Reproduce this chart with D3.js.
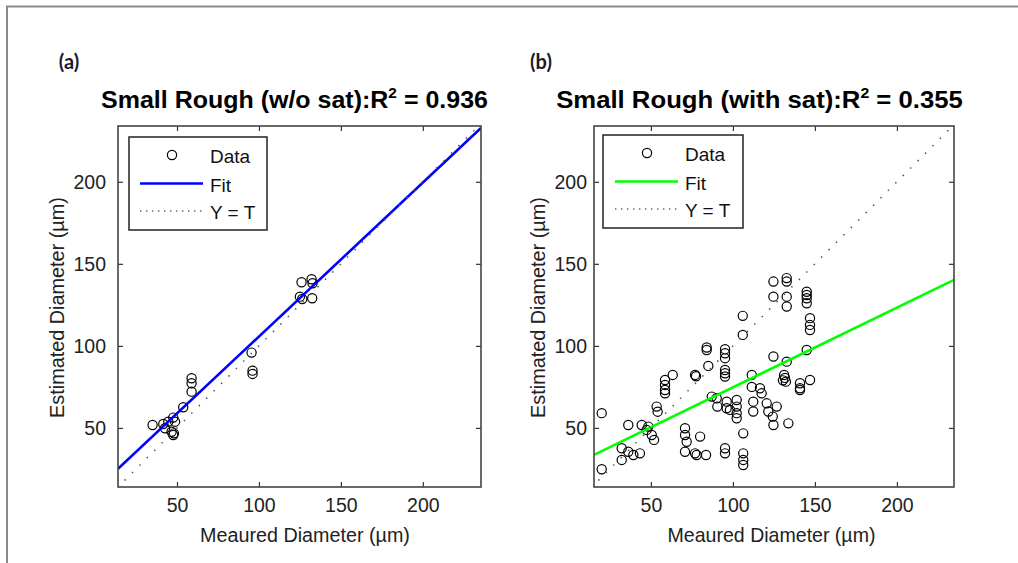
<!DOCTYPE html>
<html>
<head>
<meta charset="utf-8">
<script src="https://cdn.jsdelivr.net/npm/d3@7"></script>
<style>
  body { margin: 0; background: #fff; }
  svg { display: block; }
</style>
</head>
<body>
<svg id="fig" width="1018" height="563"></svg>
<script>
// ---- data -------------------------------------------------------------
const tickValues = [50, 100, 150, 200];
const panelTags = ["(a)", "(b)"];
const titlePrefixes = ["Small Rough (w/o sat):R", "Small Rough (with sat):R"];
const rSquared = [0.936, 0.355];
const legendLabels = ["Data", "Fit", "Y = T"];
const xLabel = "Meaured Diameter (\u00b5m)";
const yLabel = "Estimated Diameter (\u00b5m)";

// panel (a): without saturation
const measuredA = [35.1, 41.6, 44.7, 47.7, 48.8, 46.7, 48.1, 47.7, 42.7, 53.8,
  58.9, 58.9, 58.9, 95.5, 96.1, 96.1, 126.0, 132.1, 132.7, 125.0, 126.4, 132.5];
const estimatedA = [51.8, 52.4, 53.8, 56.3, 53.8, 47.7, 46.7, 45.7, 49.8, 62.6,
  80.3, 77.2, 72.1, 95.9, 84.9, 82.9, 138.8, 140.6, 138.2, 130.0, 128.6, 129.0];
const fitA = [0.938, 11.9];   // slope, intercept

// panel (b): with saturation
const measuredB = [20, 20, 32.2, 32.2, 36.2, 39.3, 43.3, 36.2, 44.4, 47.4,
  48.4, 50.5, 51.9, 53.5, 54.1, 58.6, 58.6, 58.6, 58.6, 63.3,
  70.8, 70.8, 71.8, 70.8, 76.9, 77.5, 76.9, 77.9, 83.6, 80.0,
  84.0, 84.0, 85.0, 87.1, 90.1, 90.5, 95.2, 95.2, 95.2, 95.2,
  95.2, 95.2, 96.2, 96.2, 95.2, 95.2, 102.3, 102.3, 102.3, 102.3,
  106.0, 106.0, 106.3, 106.3, 106.3, 106.3, 111.5, 112.4, 112.4, 116.5,
  117.5, 120.6, 121.6, 124.3, 124.7, 126.7, 124.7, 124.7, 124.7, 132.8,
  132.8, 132.8, 132.8, 132.8, 131.2, 131.7, 132.3, 130.5, 133.8, 140.9,
  140.9, 145.0, 145.0, 145.0, 145.0, 147.0, 147.0, 147.0, 145.0, 147.0,
  111.5, 98.2, 140.9];
const estimatedB = [59.0, 24.8, 37.6, 30.5, 35.5, 33.5, 34.5, 51.8, 51.8, 48.8,
  50.8, 45.7, 42.7, 63.0, 59.9, 79.2, 76.2, 73.1, 71.1, 82.3,
  49.8, 45.7, 41.6, 35.5, 82.3, 81.5, 34.5, 33.5, 33.5, 44.7,
  97.5, 99.0, 87.8, 69.1, 68.1, 63.0, 98.0, 95.5, 92.5, 85.3,
  83.3, 81.3, 66.0, 62.0, 37.6, 34.5, 67.0, 63.0, 59.0, 55.9,
  118.3, 106.7, 46.7, 34.5, 30.5, 27.4, 82.3, 66.0, 60.0, 74.2,
  71.1, 65.0, 60.0, 56.9, 51.8, 63.0, 93.5, 139.2, 130.0, 141.3,
  139.2, 130.0, 124.0, 90.4, 82.3, 80.5, 78.2, 79.0, 52.8, 77.2,
  74.2, 133.0, 131.0, 129.0, 126.0, 116.9, 112.8, 109.7, 97.5, 79.2,
  75.0, 61.0, 73.1];
const fitB = [0.486, 26.1];

// ---- layout -----------------------------------------------------------
const panels = [
  { tag: panelTags[0], prefix: titlePrefixes[0], r2: rSquared[0],
    xs: measuredA, ys: estimatedA, fit: fitA, fitColor: "#0000ff",
    box: { l: 118, r: 481, t: 126, b: 487 }, xDom: [14, 235.5], yDom: [14, 234],
    tagPos: [69, 69], titleC: 294.5, titleW: 387, xLabC: 305, xLabW: 210,
    yLabBase: 64, yTickGap: 12,
    legend: { l: 129, t: 137, w: 138, h: 93, mark: 172, line: [140, 203], text: 210 } },
  { tag: panelTags[1], prefix: titlePrefixes[1], r2: rSquared[1],
    xs: measuredB, ys: estimatedB, fit: fitB, fitColor: "#00ff00",
    box: { l: 594, r: 954, t: 126, b: 487 }, xDom: [15.3, 234.8], yDom: [14, 234],
    tagPos: [541, 69], titleC: 759.5, titleW: 407, xLabC: 771.5, xLabW: 208,
    yLabBase: 545, yTickGap: 7,
    legend: { l: 603, t: 135, w: 140, h: 93, mark: 647, line: [615, 678], text: 685 } }
];

const svg = d3.select("#fig");
const FONT = "'Liberation Sans', Arial, sans-serif";
const LABEL_SIZE = 19.5;

// outer frame (only its top and left edges fall inside the canvas)
svg.append("path")
  .attr("d", "M7,563V6.5H1018")
  .attr("fill", "none").attr("stroke", "#8a8a8a").attr("stroke-width", 2);

// stretch or squeeze a text node horizontally so it spans the requested width
function fitWidth(sel, cx, cy, width, rotate) {
  const w = sel.node().getBBox().width;
  const sx = width / w;
  sel.attr("transform", `translate(${cx},${cy})` + (rotate ? " rotate(-90)" : "") + ` scale(${sx},1)`);
}

panels.forEach((p, i) => {
  const g = svg.append("g");
  const x = d3.scaleLinear().domain(p.xDom).range([p.box.l, p.box.r]);
  const y = d3.scaleLinear().domain(p.yDom).range([p.box.b, p.box.t]);

  const clipId = "clip" + i;
  svg.append("clipPath").attr("id", clipId).append("rect")
    .attr("x", p.box.l).attr("y", p.box.t)
    .attr("width", p.box.r - p.box.l).attr("height", p.box.b - p.box.t);

  // panel tag
  g.append("text").text(p.tag)
    .attr("x", p.tagPos[0]).attr("y", p.tagPos[1])
    .attr("text-anchor", "middle")
    .attr("font-family", "Lato, 'Open Sans', sans-serif").attr("font-weight", "bold")
    .attr("font-size", 20).attr("fill", "#1a1a2a");

  // title with superscript
  const title = g.append("text")
    .attr("text-anchor", "middle")
    .attr("font-family", FONT).attr("font-weight", "bold")
    .attr("font-size", 23.5).attr("fill", "#000");
  title.append("tspan").text(p.prefix);
  title.append("tspan").text("2").attr("font-size", 14.5).attr("dy", -10);
  title.append("tspan").text(" = " + p.r2.toFixed(3)).attr("dy", 10);
  fitWidth(title, p.titleC, 108, p.titleW);

  // axes: ticks point inward on all four sides
  const ax = g.append("g");
  const styleAxis = sel => {
    sel.select(".domain").remove();
    sel.selectAll(".tick line").attr("stroke", "#333").attr("stroke-width", 1.2);
    sel.selectAll("text").attr("font-size", LABEL_SIZE).attr("fill", "#222")
      .attr("font-family", FONT);
  };
  ax.append("g").attr("transform", `translate(0,${p.box.b})`)
    .call(d3.axisBottom(x).tickValues(tickValues).tickSize(-5).tickPadding(11))
    .call(styleAxis);
  ax.append("g").attr("transform", `translate(0,${p.box.t})`)
    .call(d3.axisTop(x).tickValues(tickValues).tickSize(-5).tickFormat(""))
    .call(styleAxis);
  ax.append("g").attr("transform", `translate(${p.box.l},0)`)
    .call(d3.axisLeft(y).tickValues(tickValues).tickSize(-5).tickPadding(p.yTickGap))
    .call(styleAxis);
  ax.append("g").attr("transform", `translate(${p.box.r},0)`)
    .call(d3.axisRight(y).tickValues(tickValues).tickSize(-5).tickFormat(""))
    .call(styleAxis);

  // axis labels
  const xl = g.append("text").text(xLabel)
    .attr("text-anchor", "middle").attr("font-family", FONT)
    .attr("font-size", LABEL_SIZE).attr("fill", "#222");
  fitWidth(xl, p.xLabC, 542, p.xLabW);
  const yl = g.append("text").text(yLabel)
    .attr("text-anchor", "middle").attr("font-family", FONT)
    .attr("font-size", LABEL_SIZE).attr("fill", "#222");
  fitWidth(yl, p.yLabBase, 307.5, 221, true);

  // plot content, clipped to the axes box
  const plot = g.append("g").attr("clip-path", `url(#${clipId})`);
  plot.selectAll("circle.pt")
    .data(d3.zip(p.xs, p.ys))
    .join("circle").attr("class", "pt")
    .attr("cx", d => x(d[0])).attr("cy", d => y(d[1])).attr("r", 4.6)
    .attr("fill", "none").attr("stroke", "#000").attr("stroke-width", 1.2);

  const line = d3.line().x(d => x(d[0])).y(d => y(d[1]));
  plot.append("path")
    .datum(p.xDom.map(v => [v, p.fit[0] * v + p.fit[1]]))
    .attr("d", line).attr("fill", "none")
    .attr("stroke", p.fitColor).attr("stroke-width", 2.6);
  plot.append("path")
    .datum([[18, 18], [235, 235]])
    .attr("d", line).attr("fill", "none")
    .attr("stroke", "#555").attr("stroke-width", 1.5)
    .attr("stroke-dasharray", "1.5,9");

  // axes box
  g.append("rect")
    .attr("x", p.box.l).attr("y", p.box.t)
    .attr("width", p.box.r - p.box.l).attr("height", p.box.b - p.box.t)
    .attr("fill", "none").attr("stroke", "#444").attr("stroke-width", 1.6);

  // legend
  const L = p.legend;
  const lg = g.append("g");
  lg.append("rect").attr("x", L.l).attr("y", L.t).attr("width", L.w).attr("height", L.h)
    .attr("fill", "#fff").attr("stroke", "#222").attr("stroke-width", 1.5);
  const rowY = [L.t + 18, L.t + 46.5, L.t + 74];
  lg.append("circle").attr("cx", L.mark).attr("cy", rowY[0]).attr("r", 4.6)
    .attr("fill", "none").attr("stroke", "#000").attr("stroke-width", 1.2);
  lg.append("line").attr("x1", L.line[0]).attr("x2", L.line[1])
    .attr("y1", rowY[1]).attr("y2", rowY[1])
    .attr("stroke", p.fitColor).attr("stroke-width", 2.6);
  lg.append("line").attr("x1", L.line[0]).attr("x2", L.line[1])
    .attr("y1", rowY[2]).attr("y2", rowY[2])
    .attr("stroke", "#666").attr("stroke-width", 1.4)
    .attr("stroke-dasharray", "1.4,4.6");
  legendLabels.forEach((t, k) => {
    lg.append("text").text(t)
      .attr("x", L.text).attr("y", rowY[k] + 8)
      .attr("font-family", FONT).attr("font-size", 19).attr("fill", "#111");
  });
});
</script>
</body>
</html>
